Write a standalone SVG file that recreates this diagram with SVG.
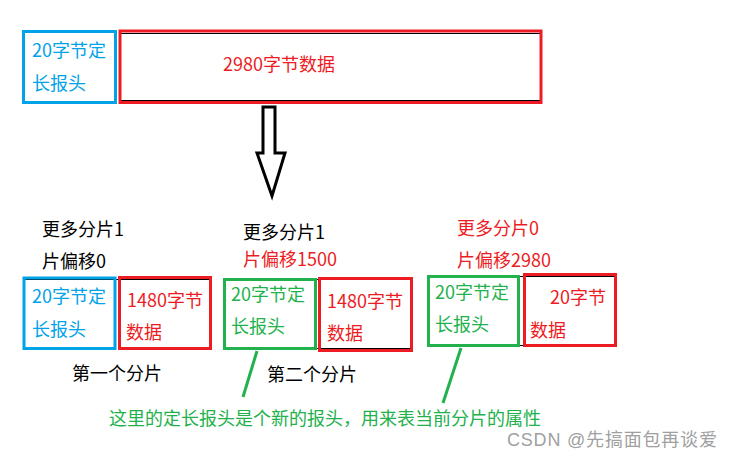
<svg xmlns="http://www.w3.org/2000/svg" width="733" height="462" viewBox="0 0 733 462">
<style>
text{font-family:"Noto Sans CJK SC","Noto Sans",sans-serif;font-size:18px}
.blue{fill:#00a2e8}.red{fill:#ed1c24}.green{fill:#22b14c}.blk{fill:#000}
.bb{fill:none;stroke:#00a2e8;stroke-width:3}
.rb{fill:none;stroke:#ed1c24;stroke-width:3}
.gb{fill:none;stroke:#22b14c;stroke-width:3}
.thin{stroke:#000;stroke-width:1;fill:none}
.conn{stroke:#22b14c;stroke-width:3;fill:none}
</style>
<rect width="733" height="462" fill="#fff"/>
<g id="top-header">
<line class="thin" x1="22" y1="32.5" x2="116" y2="32.5"/>
<rect class="bb" x="23.5" y="31.5" width="92" height="71"/>
<text class="blue" x="32" y="57">20字节定</text>
<text class="blue" x="32" y="90">长报头</text>
</g>
<g id="top-data">
<line class="thin" x1="121" y1="33.5" x2="540" y2="33.5"/>
<line class="thin" x1="121" y1="100.5" x2="540" y2="100.5"/>
<rect class="rb" x="120" y="31" width="421" height="71.5"/>
<text class="red" x="223" y="71">2980字节数据</text>
</g>
<g id="arrow">
<polygon points="263,107 275,107 275,153 285,153 272,196 257,153 263,153" fill="#fff" stroke="#000" stroke-width="3" stroke-linejoin="miter"/>
</g>
<g id="frag1">
<text class="blk" x="42" y="236">更多分片1</text>
<text class="blk" x="42" y="268">片偏移0</text>
<line class="thin" x1="24" y1="279.5" x2="210" y2="279.5"/>
<line class="thin" x1="120" y1="347.5" x2="210" y2="347.5"/>
<rect class="bb" x="24" y="278" width="91" height="70.5"/>
<rect class="rb" x="119.5" y="277.5" width="91" height="71"/>
<text class="blue" x="32" y="303">20字节定</text>
<text class="blue" x="32" y="336">长报头</text>
<text class="red" x="127" y="307">1480字节</text>
<text class="red" x="126" y="339">数据</text>
<text class="blk" x="72" y="380">第一个分片</text>
</g>
<g id="frag2">
<text class="blk" x="243" y="239">更多分片1</text>
<text class="red" x="243" y="266">片偏移1500</text>
<line class="thin" x1="223" y1="279.5" x2="411" y2="279.5"/>
<line class="thin" x1="223" y1="348.5" x2="411" y2="348.5"/>
<rect class="gb" x="224.5" y="279.5" width="91" height="69"/>
<rect class="rb" x="319.5" y="278.5" width="92" height="72"/>
<text class="green" x="231" y="301">20字节定</text>
<text class="green" x="231" y="333">长报头</text>
<text class="red" x="327" y="308">1480字节</text>
<text class="red" x="327" y="340">数据</text>
<text class="blk" x="267" y="381">第二个分片</text>
</g>
<g id="frag3">
<text class="red" x="457" y="235">更多分片0</text>
<text class="red" x="457" y="267">片偏移2980</text>
<line class="thin" x1="427" y1="276.5" x2="615" y2="276.5"/>
<line class="thin" x1="427" y1="345.5" x2="615" y2="345.5"/>
<rect class="gb" x="428.5" y="276.5" width="90" height="69"/>
<rect class="rb" x="524.5" y="274.5" width="91" height="71"/>
<text class="green" x="435" y="299">20字节定</text>
<text class="green" x="435" y="331">长报头</text>
<text class="red" x="550" y="304">20字节</text>
<text class="red" x="530" y="337">数据</text>
</g>
<g id="connectors">
<line class="conn" x1="257" y1="351" x2="243" y2="397"/>
<line class="conn" x1="461" y1="348" x2="443" y2="403"/>
</g>
<g id="note">
<text class="green" x="109" y="425">这里的定长报头是个新的报头，用来表当前分片的属性</text>
</g>
<g id="watermark">
<text x="507" y="446" fill="#a0a0a0" letter-spacing="0.8" style="font-family:'Liberation Sans','Noto Sans CJK SC',sans-serif;font-size:18px">CSDN @先搞面包再谈爱</text>
</g>
</svg>
